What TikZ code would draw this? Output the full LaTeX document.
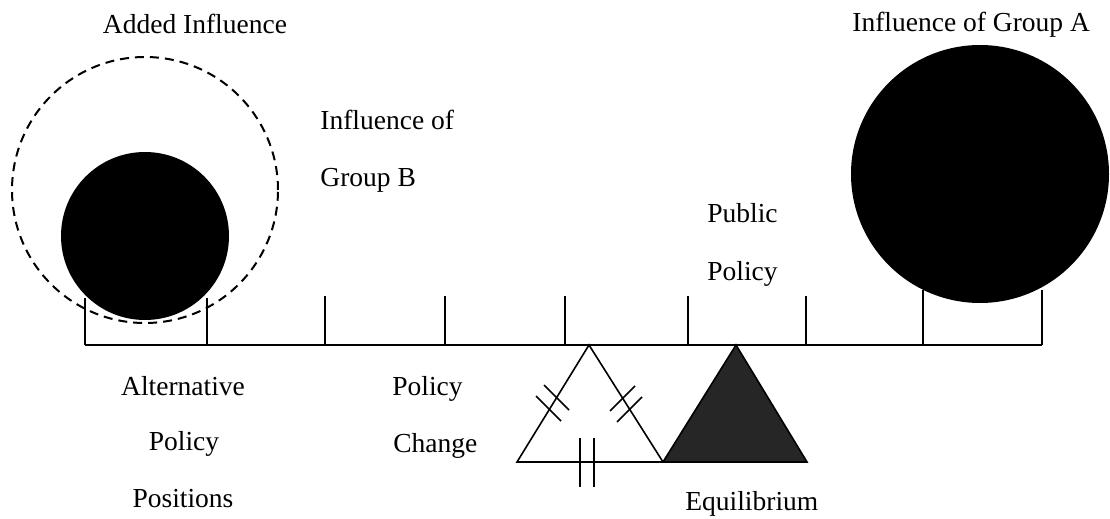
\documentclass[tikz,border=0pt]{standalone}
\usepackage{fontspec}
\setmainfont{Liberation Serif}
\usepackage{tikz}
\usetikzlibrary{positioning}
\tikzset{
  lbl/.style={font=\fontsize{13.75}{16}\selectfont, inner sep=0pt},
  beam/.style={line width=1pt},
  tickline/.style={line width=0.8pt},
  weight/.style={circle, fill=black, inner sep=0pt},
  halo/.style={circle, draw, line width=1pt, dash pattern=on 4.5pt off 3pt, inner sep=0pt},
  fulcrum/.style={line width=0.8pt, line join=miter},
  eqmark/.style={line width=0.8pt},
}

\begin{document}
\begin{tikzpicture}[x=0.5pt, y=-0.5pt]
\useasboundingbox (0,0) rectangle (1110,519);

%Beam
\coordinate (beamL) at (85,345);
\coordinate (beamR) at (1042,345);
\draw[beam] (beamL) -- (beamR);
\foreach \x in {325,445,565,688,806}
  \draw[tickline] (\x,345) -- (\x,296);
\draw[tickline] (85,298) -- (85,345);
\draw[tickline] (207,298) -- (207,345);
\draw[tickline] (923,290) -- (923,345);
\draw[tickline] (1042,290) -- (1042,345);

%Weights
\node[weight, minimum size=84pt] (groupB) at (145,236) {};
\node[halo, minimum size=133pt] (added) at (145,190) {};
\node[weight, minimum size=129pt] (groupA) at (980,174) {};

%Fulcrums
\coordinate (oldTop) at (589,345);
\coordinate (oldL) at (517,462);
\coordinate (newTop) at (736,345);
\coordinate (newR) at (807,462);
\coordinate (mid) at (663,462);
\draw[fulcrum] (oldTop) -- (oldL) -- (mid) -- cycle;
\filldraw[fulcrum, fill=black!85] (newTop) -- (mid) -- (newR) -- cycle;

%Equal marks
\draw[eqmark] (536,396) -- (561,421);
\draw[eqmark] (544,385) -- (569,410);
\draw[eqmark] (610,411) -- (635,386);
\draw[eqmark] (617,422) -- (642,397);
\draw[eqmark] (580,438) -- (580,487);
\draw[eqmark] (594,438) -- (594,487);

%Labels
\node[lbl, anchor=base] (addedTxt) at (195,34) {Added Influence};
\node[lbl, anchor=base west] (groupATxt) at (852,32) {Influence of Group A};
\node[lbl, anchor=base west] (groupBTxt1) at (320,130) {Influence of};
\node[lbl, anchor=base west] (groupBTxt2) at (320,187) {Group B};
\node[lbl, anchor=base west] (publicTxt1) at (707,223) {Public};
\node[lbl, anchor=base west] (publicTxt2) at (707,280) {Policy};
\node[lbl, anchor=base] (altTxt1) at (183,395) {Alternative};
\node[lbl, anchor=base] (altTxt2) at (184,450) {Policy};
\node[lbl, anchor=base] (altTxt3) at (183,507) {Positions};
\node[lbl, anchor=base west] (changeTxt1) at (392,395) {Policy};
\node[lbl, anchor=base west] (changeTxt2) at (393,452) {Change};
\node[lbl, anchor=base west] (eqTxt) at (685,510) {Equilibrium};
\end{tikzpicture}
\end{document}
